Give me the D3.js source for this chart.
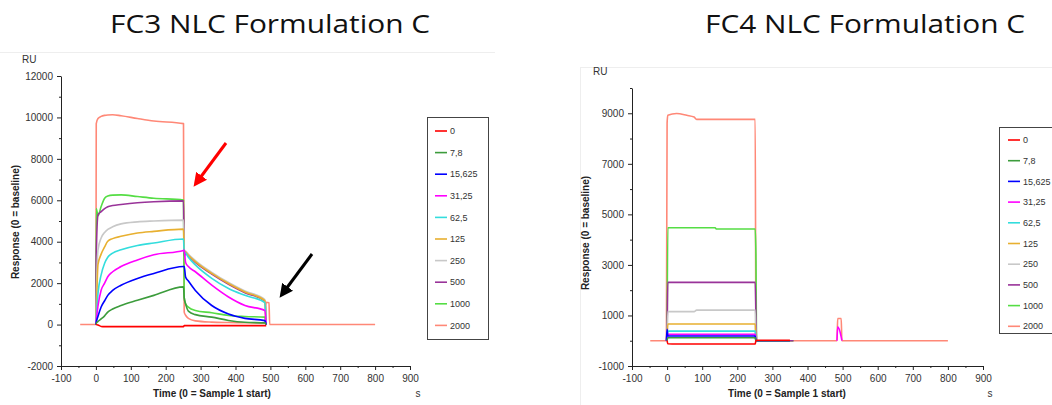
<!DOCTYPE html>
<html><head><meta charset="utf-8">
<script src="https://cdn.jsdelivr.net/npm/d3@7"></script>
<style>
body{margin:0;background:#fff;}
svg{display:block;font-family:"Liberation Sans",Arial,sans-serif;}
</style></head>
<body>
<svg id="c" width="1052" height="405"></svg>
<script>
// ---------- DATA ----------
const seriesNames = ["0","7,8","15,625","31,25","62,5","125","250","500","1000","2000"];
const seriesColors = ["#ff0000","#3c9c3c","#0000ff","#ff00ff","#33dddd","#e8b030","#c8c8c8","#993399","#55dd44","#ff8877"];

const xTicks = [-100,0,100,200,300,400,500,600,700,800,900];
const fc3YTicks = [-2000,0,2000,4000,6000,8000,10000,12000];
const fc4YTicks = [-1000,1000,3000,5000,7000,9000];

// FC3 (time grid in s, values in RU)
const fc3Time = [-45,0,1,6,15,25,34,48,72,119,166,251,253,257,265,285,332,380,427,484,488,496,498,800];
const fc3_0      = [null,0,0,-20,-90,-100,-100,-100,-100,-100,-100,-100,-50,-50,-50,-50,-50,-50,-50,-50,-50,null,null,null];
const fc3_7_8    = [null,0,50,150,270,420,600,750,920,1170,1410,1820,1300,1000,650,480,360,200,110,80,0,null,null,null];
const fc3_15_625 = [null,0,100,400,850,1150,1410,1650,1900,2230,2470,2800,2800,2300,2100,1650,920,510,300,190,0,null,null,null];
const fc3_31_25  = [null,0,200,900,1660,2000,2310,2550,2800,3120,3370,3580,3600,3000,2800,2550,1900,1330,920,680,0,null,null,null];
const fc3_62_5   = [null,0,300,1500,2400,2960,3250,3450,3610,3820,3940,4130,3500,3450,3250,2880,2230,1740,1410,1060,0,null,null,null];
const fc3_125    = [null,0,500,2900,3400,3750,4020,4150,4260,4420,4500,4610,3550,3500,3350,3040,2470,1980,1570,1160,0,null,null,null];
const fc3_250    = [null,0,1000,3610,4180,4450,4590,4720,4860,4960,5000,5040,3600,3550,3400,3090,2520,2030,1620,1210,0,null,null,null];
const fc3_500    = [null,0,3300,5300,5450,5600,5690,5750,5800,5880,5930,5970,3300,3450,3330,3000,2440,1950,1540,1130,0,null,null,null];
const fc3_1000   = [null,0,5600,5250,5700,6100,6210,6250,6260,6180,6100,6010,1300,1000,840,680,570,440,390,360,0,null,null,null];
const fc3_2000   = [0,0,9700,9950,10050,10100,10120,10130,10080,9950,9830,9700,600,450,300,180,120,100,90,80,1080,1050,0,0];

// FC4
const fc4Time = [-48,-2,0,2,27,56,77,84,137,140,251,253,255,350,360,484,486,496,498,800];
const fc4_0      = [null,null,0,-120,-130,-130,-130,-130,-130,-130,-130,0,20,20,null,null,null,null,null,null];
const fc4_7_8    = [null,null,0,120,120,120,120,120,120,120,120,0,0,0,null,null,null,null,null,null];
const fc4_15_625 = [null,0,450,185,185,185,185,185,185,185,185,0,0,0,null,null,null,null,null,null];
const fc4_31_25  = [null,null,0,250,250,250,250,250,250,250,250,0,0,0,null,0,550,150,0,null];
const fc4_62_5   = [null,null,0,380,380,380,380,380,380,380,380,0,0,0,null,null,null,null,null,null];
const fc4_125    = [null,null,0,660,660,660,660,660,660,660,660,0,0,0,null,null,null,null,null,null];
const fc4_250    = [null,null,0,1150,1150,1150,1150,1210,1210,1210,1210,0,0,0,null,null,null,null,null,null];
const fc4_500    = [null,0,450,2310,2310,2310,2310,2310,2310,2310,2310,1000,0,0,0,null,null,null,null,null];
const fc4_1000   = [null,null,0,4470,4470,4470,4470,4470,4470,4420,4420,3450,0,0,0,null,null,null,null,null];
const fc4_2000   = [0,0,8600,8920,8990,8920,8850,8760,8760,8760,8760,0,0,0,0,0,880,880,0,0];

const fc3Series = [fc3_0,fc3_7_8,fc3_15_625,fc3_31_25,fc3_62_5,fc3_125,fc3_250,fc3_500,fc3_1000,fc3_2000];
const fc4Series = [fc4_0,fc4_7_8,fc4_15_625,fc4_31_25,fc4_62_5,fc4_125,fc4_250,fc4_500,fc4_1000,fc4_2000];

// ---------- DRAW ----------
const svg = d3.select("#c");

// faint frames of the pasted panels
svg.append("line").attr("x1",0).attr("x2",495).attr("y1",52.5).attr("y2",52.5).attr("stroke","#eeeeee");
svg.append("line").attr("x1",580.5).attr("x2",580.5).attr("y1",67).attr("y2",405).attr("stroke","#eeeeee");
svg.append("line").attr("x1",580).attr("x2",1052).attr("y1",67.5).attr("y2",67.5).attr("stroke","#eeeeee");

const fmt = d => String(d);

function drawChart(cfg){
  const g = svg.append("g");
  const x = d3.scaleLinear().domain([-100,900]).range(cfg.xRange);
  const y = d3.scaleLinear().domain(cfg.yDomain).range(cfg.yRange);

  // title
  g.append("text").attr("x",cfg.titleX).attr("y",33).attr("text-anchor","middle")
    .attr("font-family","'Open Sans',sans-serif").attr("font-size",26).attr("fill","#111")
    .attr("textLength",320).attr("lengthAdjust","spacingAndGlyphs").text(cfg.title);

  // lines (draw from highest concentration to lowest)
  const line = d3.line().defined(d=>d[1]!==null).curve(d3.curveMonotoneX).x(d=>x(d[0])).y(d=>y(d[1]));
  for(let i=cfg.series.length-1;i>=0;i--){
    const pts = cfg.time.map((t,k)=>[t,cfg.series[i][k]]);
    g.append("path").attr("d",line(pts)).attr("fill","none")
      .attr("stroke",seriesColors[i]).attr("stroke-width",1.6).attr("stroke-linejoin","round");
  }

  // axes
  const xMinor = d3.range(-50,900,100);
  const xAx = g.append("g").attr("transform",`translate(0,${cfg.yRange[0]})`)
    .call(d3.axisBottom(x).tickValues(xTicks).tickSize(4).tickSizeOuter(0).tickPadding(5).tickFormat(fmt));
  g.append("g").attr("transform",`translate(0,${cfg.yRange[0]})`)
    .call(d3.axisBottom(x).tickValues(xMinor).tickSize(2).tickSizeOuter(0).tickFormat(""))
    .select(".domain").remove();
  const yAx = g.append("g").attr("transform",`translate(${cfg.xRange[0]},0)`)
    .call(d3.axisLeft(y).tickValues(cfg.yTicks).tickSize(4).tickSizeOuter(0).tickPadding(4).tickFormat(fmt));
  g.append("g").attr("transform",`translate(${cfg.xRange[0]},0)`)
    .call(d3.axisLeft(y).tickValues(cfg.yMinor).tickSize(2).tickSizeOuter(0).tickFormat(""))
    .select(".domain").remove();
  [xAx,yAx].forEach(a=>{
    a.selectAll("text").attr("font-size",10).attr("fill","#333").attr("font-family","'Liberation Sans',Arial,sans-serif");
    a.selectAll("line,path").attr("stroke","#222");
  });
  g.selectAll(".tick line").attr("stroke","#222");

  // axis titles
  g.append("text").attr("x",cfg.xTitleX).attr("y",397).attr("text-anchor","middle")
    .attr("font-size",10).attr("font-weight","bold").attr("fill","#222").text("Time (0 = Sample 1 start)");
  g.append("text").attr("x",cfg.sX).attr("y",397).attr("text-anchor","middle")
    .attr("font-size",10).attr("fill","#333").text("s");
  g.append("text").attr("transform",`translate(${cfg.yTitleX},${cfg.yTitleY}) rotate(-90)`)
    .attr("text-anchor","middle").attr("dy","0.35em")
    .attr("font-size",10).attr("font-weight","bold").attr("fill","#222").text("Response (0 = baseline)");
  g.append("text").attr("x",cfg.ruX).attr("y",cfg.ruY).attr("font-size",10).attr("fill","#333").text("RU");

  // legend
  const lg = g.append("g");
  lg.append("rect").attr("x",cfg.leg.x).attr("y",cfg.leg.y).attr("width",cfg.leg.w).attr("height",cfg.leg.h)
    .attr("fill","#fff").attr("stroke","#444").attr("stroke-width",1);
  seriesNames.forEach((n,i)=>{
    const yy = cfg.leg.y0 + i*cfg.leg.dy;
    lg.append("line").attr("x1",cfg.leg.lx).attr("x2",cfg.leg.lx+12).attr("y1",yy).attr("y2",yy)
      .attr("stroke",seriesColors[i]).attr("stroke-width",1.6);
    lg.append("text").attr("x",cfg.leg.lx+15).attr("y",yy).attr("dy","0.35em")
      .attr("font-size",9).attr("fill","#333").text(n);
  });
  return {x,y};
}

drawChart({
  title:"FC3 NLC Formulation C", titleX:270,
  xRange:[61,410], yDomain:[-2000,12000], yRange:[366,76],
  yTicks:fc3YTicks, yMinor:d3.range(-1000,12000,2000),
  time:fc3Time, series:fc3Series,
  xTitleX:212, sX:418, yTitleX:15, yTitleY:222, ruX:22, ruY:63,
  leg:{x:427.5,y:117.5,w:61,h:222,y0:131,dy:21.6,lx:435}
});
drawChart({
  title:"FC4 NLC Formulation C", titleX:865,
  xRange:[632,983], yDomain:[-1000,10000], yRange:[366,88],
  yTicks:fc4YTicks, yMinor:d3.range(0,10001,2000),
  time:fc4Time, series:fc4Series,
  xTitleX:787, sX:990, yTitleX:585, yTitleY:233, ruX:593, ruY:75,
  leg:{x:999.5,y:127.5,w:60,h:206,y0:140,dy:20.7,lx:1008}
});

// arrows
const defs = svg.append("defs");
function marker(id,color){
  defs.append("marker").attr("id",id).attr("viewBox","0 0 10 10").attr("refX",2).attr("refY",5)
    .attr("markerWidth",4.5).attr("markerHeight",4.5).attr("orient","auto")
    .append("path").attr("d","M0,0 L10,5 L0,10 z").attr("fill",color);
}
marker("ar","#ff0000"); marker("ab","#000000");
svg.append("line").attr("x1",226).attr("y1",143).attr("x2",200).attr("y2",178)
  .attr("stroke","#ff0000").attr("stroke-width",3).attr("marker-end","url(#ar)");
svg.append("line").attr("x1",312).attr("y1",254).attr("x2",286).attr("y2",289)
  .attr("stroke","#000000").attr("stroke-width",3).attr("marker-end","url(#ab)");
</script>
</body></html>
